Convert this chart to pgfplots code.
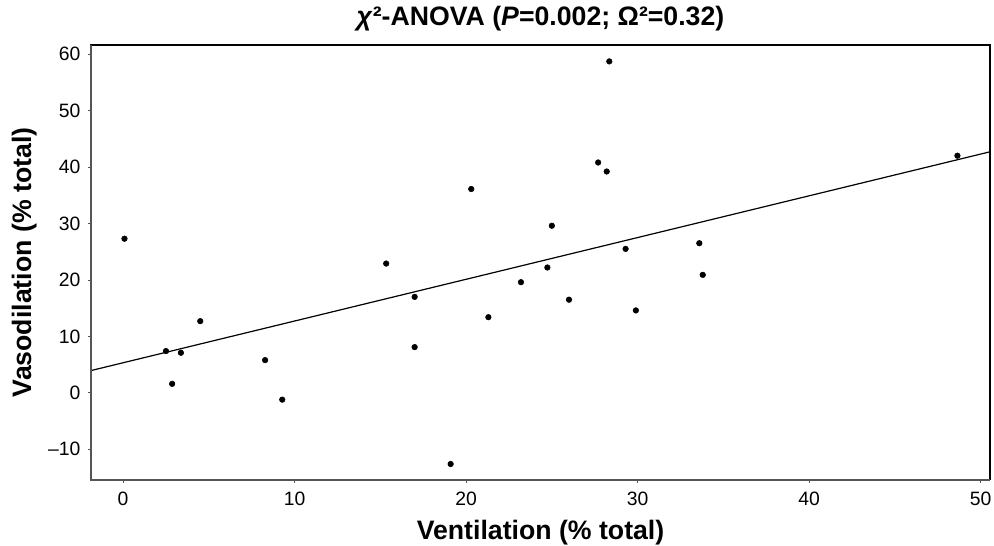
\documentclass[border=0pt]{standalone}
\usepackage{fontspec}
\setmainfont{Liberation Sans}
\usepackage{pgfplots}
\pgfplotsset{compat=1.18}
\usetikzlibrary{calc}

\definecolor{axgray}{RGB}{85,85,85}

\begin{document}
\begin{tikzpicture}
\begin{axis}[
	scale only axis,
	width=674pt,
	height=326pt,
	xmin=-1.87, xmax=50.55,
	ymin=-15.4, ymax=61.6,
	xtick={0,10,20,30,40,50},
	ytick={-10,0,10,20,30,40,50,60},
	yticklabels={–10,0,10,20,30,40,50,60},
	xtick pos=bottom, ytick pos=left,
	tick align=outside,
	major tick length=2.5pt,
	tick style={axgray, line width=0.6pt},
	axis line style={black, line width=0.9pt},
	/pgf/number format/assume math mode=true,
	ticklabel style={font=\fontsize{14.5}{16}\selectfont},
	xticklabel style={yshift=-3pt},
	yticklabel style={xshift=-2pt},
	xlabel={\bfseries Ventilation (\% total)},
	ylabel={\bfseries Vasodilation (\% total)},
	label style={font=\fontsize{20}{23}\selectfont},
	xlabel style={at={(rel axis cs:0.5,0)}, anchor=center, yshift=-39.75pt},
	ylabel style={at={(rel axis cs:0,0.5)}, anchor=center, yshift=50pt},
	title={\bfseries\textit{χ}²-ANOVA (\textit{P}=0.002; Ω²=0.32)},
	title style={font=\fontsize{20}{23}\selectfont, at={(rel axis cs:0.5,1)}, anchor=center, yshift=13.5pt},
	clip=true,
]

% scatter
\addplot[only marks, mark=*, mark size=2.1pt, color=black] coordinates {
	(0.08, 27.3)
	(2.5, 7.4)
	(2.86, 1.6)
	(3.37, 7.1)
	(4.5, 12.7)
	(8.28, 5.8)
	(9.28, -1.2)
	(15.34, 22.9)
	(17.0, 17.0)
	(17.0, 8.1)
	(19.1, -12.6)
	(20.3, 36.1)
	(21.3, 13.4)
	(23.2, 19.6)
	(24.74, 22.2)
	(25.0, 29.6)
	(26.0, 16.5)
	(27.7, 40.8)
	(28.2, 39.2)
	(28.35, 58.7)
	(29.3, 25.5)
	(29.9, 14.6)
	(33.6, 26.5)
	(33.8, 20.9)
	(48.65, 42.0)
};

% fit line
\addplot[no marks, black, line width=0.9pt] coordinates {
	(-1.87, 3.95)
	(50.55, 42.69)
};

\end{axis}
% gray left and bottom axis lines
\draw[axgray, line width=1.6pt] (current axis.north west) -- (current axis.south west) -- (current axis.south east);
% page size as in the reference
\pgfresetboundingbox
\path ($(current axis.south west)+(-68.25pt,-49.5pt)$) rectangle ($(current axis.north east)+(3pt,33.75pt)$);
\end{tikzpicture}
\end{document}
